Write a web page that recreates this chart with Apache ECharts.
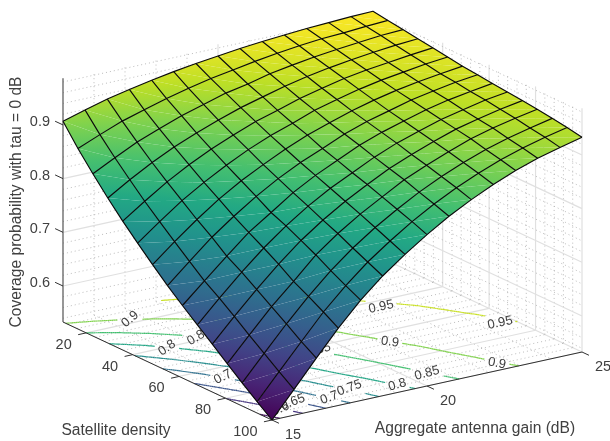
<!DOCTYPE html>
<html><head><meta charset="utf-8">
<style>html,body{margin:0;padding:0;background:#fff}#c{width:610px;height:441px}</style>
<script src="https://cdn.jsdelivr.net/npm/echarts@6/dist/echarts.min.js"></script>
</head><body><div id="c"></div>
<script>
// ---- data ----
const densityValues=[10,16.43,22.86,29.29,35.71,42.14,48.57,55,61.43,67.86,74.29,80.71,87.14,93.57,100];
const gainValues=[15,15.71,16.43,17.14,17.86,18.57,19.29,20,20.71,21.43,22.14,22.86,23.57,24.29,25];
const coverage=[
[.907,.919,.930,.939,.947,.954,.960,.965,.970,.974,.977,.980,.982,.984,.985],
[.869,.886,.902,.914,.926,.936,.945,.952,.959,.965,.970,.974,.976,.979,.981],
[.835,.856,.876,.892,.907,.919,.931,.939,.949,.956,.962,.967,.971,.975,.977],
[.803,.828,.851,.871,.888,.903,.917,.928,.939,.948,.955,.961,.966,.970,.973],
[.773,.801,.828,.851,.871,.888,.904,.916,.929,.939,.948,.955,.960,.965,.969],
[.745,.776,.806,.831,.854,.874,.891,.905,.920,.931,.941,.949,.955,.961,.965],
[.718,.752,.784,.813,.838,.859,.879,.896,.910,.923,.934,.943,.950,.956,.961],
[.692,.728,.764,.794,.822,.846,.867,.884,.902,.916,.927,.938,.946,.953,.958],
[.668,.705,.742,.777,.805,.833,.856,.875,.894,.909,.921,.933,.942,.949,.955],
[.645,.686,.725,.761,.793,.821,.845,.865,.885,.902,.915,.928,.937,.946,.952],
[.622,.665,.706,.744,.779,.808,.834,.856,.877,.894,.909,.923,.933,.942,.949],
[.599,.643,.687,.725,.765,.796,.823,.846,.869,.887,.903,.918,.929,.938,.946],
[.576,.622,.668,.710,.749,.782,.811,.836,.859,.879,.896,.911,.923,.933,.942],
[.554,.601,.648,.694,.734,.769,.799,.826,.850,.871,.889,.905,.918,.929,.938],
[.533,.581,.630,.677,.720,.756,.787,.815,.840,.862,.881,.898,.912,.923,.933]];
const densityTicks=[20,40,60,80,100];
const gainTicks=[15,20,25];
const zTicks=[0.6,0.7,0.8,0.9];
const contourLevels=[.55,.6,.65,.7,.75,.8,.85,.9,.95];
// gain, density, text, angle
const contourLabels=[
[16.6,17.5,'0.9',40],[17.33,37.5,'0.85',30],[16.07,40.5,'0.8',35],[15.94,66.3,'0.7',28],
[15.7,94.2,'0.6',25],[16.3,91.6,'0.65',20],[17.3,94,'0.7',20],[18.2,90.6,'0.75',20],
[19.4,95.2,'0.8',15],[20.6,92,'0.85',15],[22.6,95.4,'0.9',-10],[21.25,67.4,'0.9',-8],
[22.7,44.2,'0.95',12],[24.56,70.6,'0.95',12],[19.3,62.5,'0.85',15]];
const xTitle='Aggregate antenna gain (dB)';
const yTitle='Satellite density';
const zTitle='Coverage probability with tau = 0 dB';
const viridis=['#440154','#482475','#414487','#355f8d','#2a788e','#21918c','#22a884','#44bf70','#7ad151','#bddf26','#fde725'];

// ---- view ----
const D0=10,D1=100,G0=15,G1=25,Z0=.533,Z1=.987;
function project(g,d,z){
  const u=(d-D0)/(D1-D0),v=(g-G0)/(G1-G0);
  return [63+209*u+310*v,322+98*u-68*v-537*(z-Z0)];
}
function hex(c){return [1,3,5].map(k=>parseInt(c.substr(k,2),16));}
function colorOf(z){
  let t=Math.max(0,Math.min(1,(z-Z0)/(Z1-Z0)))*(viridis.length-1);
  const i=Math.min(viridis.length-2,Math.floor(t)),f=t-i,a=hex(viridis[i]),b=hex(viridis[i+1]);
  return 'rgb('+a.map((x,k)=>Math.round(x+(b[k]-x)*f)).join(',')+')';
}
// fill of a triangle whose colour runs linearly between its three corner values
function triFill(p,z){
  const det=(p[1][0]-p[0][0])*(p[2][1]-p[0][1])-(p[2][0]-p[0][0])*(p[1][1]-p[0][1]);
  const zmin=Math.min(z[0],z[1],z[2]),zmax=Math.max(z[0],z[1],z[2]);
  if(Math.abs(det)<1e-6||zmax-zmin<1e-6)return colorOf(z[0]);
  const a=((z[1]-z[0])*(p[2][1]-p[0][1])-(z[2]-z[0])*(p[1][1]-p[0][1]))/det;
  const b=((z[2]-z[0])*(p[1][0]-p[0][0])-(z[1]-z[0])*(p[2][0]-p[0][0]))/det;
  const g2=a*a+b*b,s=p[z.indexOf(zmin)],dz=zmax-zmin;
  const stops=[0,.25,.5,.75,1].map(t=>({offset:t,color:colorOf(zmin+dz*t)}));
  return {type:'linear',global:true,x:s[0],y:s[1],x2:s[0]+a*dz/g2,y2:s[1]+b*dz/g2,colorStops:stops};
}
const FONT='"Liberation Sans",Arial,sans-serif',INK='#404040';
function range(a,b,s){const r=[];for(let n=0;a+n*s<=b+1e-9;n++)r.push(a+n*s);return r;}

// grid lines [g1,d1,z1,g2,d2,z2,isMajor]
const gridLines=[];
range(G0,G1,1).forEach(g=>{const M=(g%5===0)?1:0;
  gridLines.push([g,D0,Z0,g,D1,Z0,M],[g,D0,Z0,g,D0,Z1,M]);});
range(12,D1,4).forEach(d=>{const M=(d%20===0)?1:0;
  gridLines.push([G0,d,Z0,G1,d,Z0,M],[G1,d,Z0,G1,d,Z1,M]);});
range(.54,.98,.02).forEach(z=>{const M=(Math.round(z*100)%10===0)?1:0;
  gridLines.push([G0,D0,z,G1,D0,z,M],[G1,D0,z,G1,D1,z,M]);});

// marching squares on the floor
function contourSegments(L){
  const segs=[];
  const cross=(i1,j1,i2,j2)=>{
    const a=coverage[i1][j1],b=coverage[i2][j2];
    if((a>=L)===(b>=L))return null;
    const f=(L-a)/(b-a);
    return [gainValues[j1]+(gainValues[j2]-gainValues[j1])*f,densityValues[i1]+(densityValues[i2]-densityValues[i1])*f];
  };
  for(let i=0;i<14;i++)for(let j=0;j<14;j++){
    const p=[cross(i,j,i,j+1),cross(i,j+1,i+1,j+1),cross(i+1,j+1,i+1,j),cross(i+1,j,i,j)].filter(Boolean);
    if(p.length>=2)segs.push([p[0],p[1]]);
    if(p.length===4)segs.push([p[2],p[3]]);
  }
  return segs;
}
const cells=[];
for(let i=0;i<14;i++)for(let j=13;j>=0;j--)cells.push([i,j]);
const meshIdx=[];
for(let k=0;k<15;k++)meshIdx.push([k]);

function textEl(x,y,text,size,align,rot){
  return {type:'text',x:x,y:y,rotation:(rot||0)*Math.PI/180,silent:true,
    style:{text:text,fill:INK,fontSize:size,fontFamily:FONT,align:align,verticalAlign:'middle'}};
}
function lineEl(a,b,stroke,w,dash){
  return {type:'line',silent:true,shape:{x1:a[0],y1:a[1],x2:b[0],y2:b[1]},
    style:{stroke:stroke,lineWidth:w,lineDash:dash||null,fill:null}};
}
const base={type:'custom',coordinateSystem:'cartesian2d',silent:true,animation:false,progressive:0,clip:false};
const P=(api,g,d,z)=>api.coord(project(g,d,z));

const option={
 animation:false,
 grid:{left:0,right:0,top:0,bottom:0},
 xAxis:{type:'value',min:0,max:610,show:false},
 yAxis:{type:'value',min:0,max:441,inverse:true,show:false},
 series:[
  Object.assign({},base,{name:'grid',z:1,data:gridLines.map((_,k)=>[k]),encode:{x:0,y:0},
    renderItem:(p,api)=>{const l=gridLines[api.value(0)];
      return l[6]?lineEl(P(api,l[0],l[1],l[2]),P(api,l[3],l[4],l[5]),'#e0e0e0',1.2)
                 :lineEl(P(api,l[0],l[1],l[2]),P(api,l[3],l[4],l[5]),'#b4b4b4',.9,[1,3]);}}),
  Object.assign({},base,{name:'contours',z:2,data:contourLevels.map((_,k)=>[k]),encode:{x:0,y:0},
    renderItem:(p,api)=>{
      const L=contourLevels[api.value(0)],col=colorOf(L),kids=[];
      const labs=contourLabels.filter(c=>parseFloat(c[2])===L).map(c=>{
        const q=P(api,c[0],c[1],Z0);return [q[0],q[1],c[2].length*3.3+3];});
      contourSegments(L).forEach(s=>{
        const a=P(api,s[0][0],s[0][1],Z0),b=P(api,s[1][0],s[1][1],Z0);
        const n=Math.max(1,Math.ceil(Math.hypot(b[0]-a[0],b[1]-a[1])/2));
        for(let t=0;t<n;t++){
          const A=[a[0]+(b[0]-a[0])*t/n,a[1]+(b[1]-a[1])*t/n],B=[a[0]+(b[0]-a[0])*(t+1)/n,a[1]+(b[1]-a[1])*(t+1)/n];
          const mx=(A[0]+B[0])/2,my=(A[1]+B[1])/2;
          if(labs.some(l=>Math.hypot(mx-l[0],my-l[1])<l[2]))continue;
          kids.push(lineEl(A,B,col,1.2));
        }
      });
      return {type:'group',children:kids};}}),
  Object.assign({},base,{name:'contourLabels',z:3,data:contourLabels.map((_,k)=>[k]),encode:{x:0,y:0},
    renderItem:(p,api)=>{const c=contourLabels[api.value(0)],q=P(api,c[0],c[1],Z0);
      return textEl(q[0],q[1],c[2],13,'center',c[3]);}}),
  Object.assign({},base,{name:'axes',z:4,data:[[0]],encode:{x:0,y:0},
    renderItem:(p,api)=>{const k=[
      lineEl(P(api,G0,D0,Z0),P(api,G0,D1,Z0),'#303030',1),
      lineEl(P(api,G0,D1,Z0),P(api,G1,D1,Z0),'#303030',1),
      lineEl(P(api,G0,D0,Z0),P(api,G0,D0,Z1),'#606060',1.2)];
      densityTicks.forEach(d=>{const a=P(api,G0,d,Z0);
        k.push(lineEl(a,P(api,G0-.26,d,Z0),'#303030',1),textEl(a[0]-14.5,a[1]+12,String(d),14.5,'right'));});
      gainTicks.forEach(g=>{const a=P(api,g,D1,Z0);
        k.push(lineEl(a,P(api,g,D1+3,Z0),'#303030',1),textEl(a[0]+13,a[1]+15,String(g),14.5,'left'));});
      zTicks.forEach(z=>{const a=P(api,G0,D0,z);
        k.push(lineEl(a,P(api,G0,D0-3.4,z),'#303030',1),textEl(50,a[1]-3,z.toFixed(1),14.5,'right'));});
      k.push(textEl(475,429,xTitle,15.6,'center'),textEl(116,431,yTitle,15.6,'center'),textEl(17,202,zTitle,15.6,'center',90));
      return {type:'group',children:k};}}),
  Object.assign({},base,{name:'surface',z:5,data:cells,encode:{x:0,y:1},
    renderItem:(p,api)=>{
      const i=api.value(0),j=api.value(1);
      const c=(a,b)=>P(api,gainValues[b],densityValues[a],coverage[a][b]);
      const A=c(i,j),B=c(i,j+1),C=c(i+1,j+1),E=c(i+1,j);
      const zA=coverage[i][j],zB=coverage[i][j+1],zC=coverage[i+1][j+1],zE=coverage[i+1][j];
      const tri=(pts,zs)=>({type:'polygon',silent:true,shape:{points:pts},style:{fill:triFill(pts,zs)}});
      return {type:'group',children:[tri([A,B,C],[zA,zB,zC]),tri([A,C,E],[zA,zC,zE])]};}}),
  Object.assign({},base,{name:'mesh',z:6,data:meshIdx,encode:{x:0,y:0},
    renderItem:(p,api)=>{
      const k=api.value(0),row=[],col=[];
      for(let n=0;n<15;n++){
        row.push(P(api,gainValues[n],densityValues[k],coverage[k][n]));
        col.push(P(api,gainValues[k],densityValues[n],coverage[n][k]));
      }
      const mk=pts=>({type:'polyline',silent:true,shape:{points:pts},style:{stroke:'#0a0a0a',lineWidth:1.15,fill:null}});
      return {type:'group',children:[mk(row),mk(col)]};}})
 ]
};
echarts.init(document.getElementById('c'),null,{renderer:'canvas'}).setOption(option);
</script></body></html>
